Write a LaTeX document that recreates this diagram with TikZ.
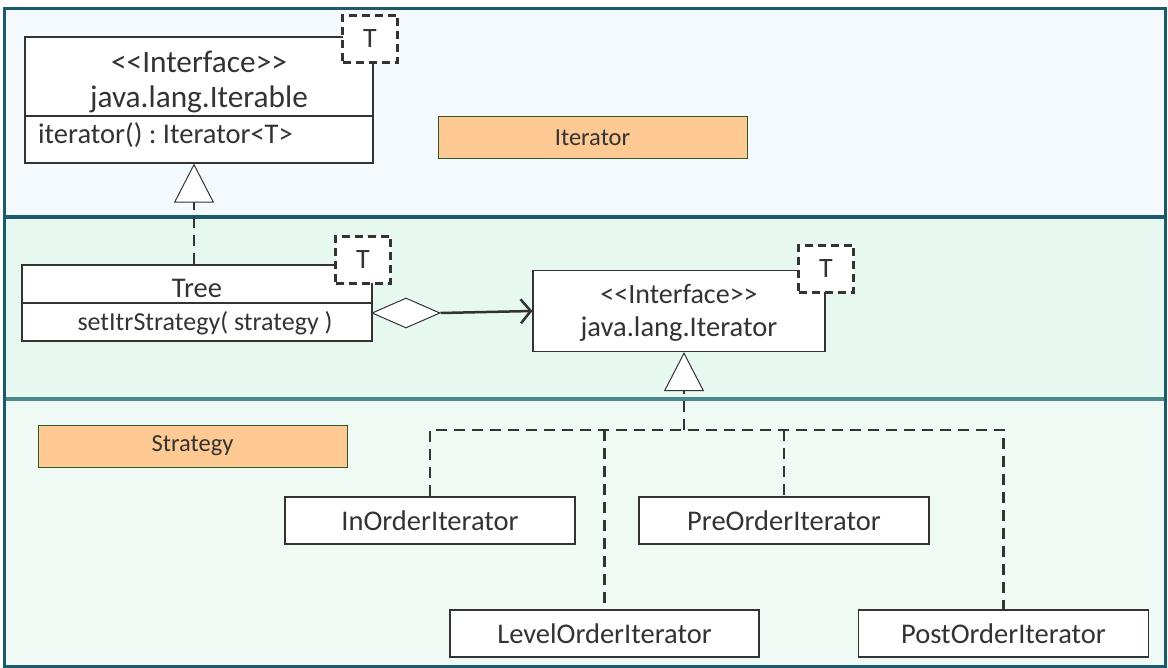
\documentclass[tikz,border=0pt]{standalone}
\usepackage{fontspec}
\setmainfont{Carlito}
\usetikzlibrary{arrows.meta,shapes.geometric}
\definecolor{txt}{HTML}{333333}
\definecolor{frame}{HTML}{1A5A6C}
\definecolor{frametwo}{HTML}{4A8A8E}
\definecolor{bgtop}{HTML}{F3F9FD}
\definecolor{bgmid}{HTML}{E7F8F0}
\definecolor{bgbot}{HTML}{EFFAF5}
\definecolor{orangefill}{HTML}{FFC994}
\definecolor{orangeline}{HTML}{2D5A2D}
\newcommand{\stereo}[1]{<\kern0pt<#1>\kern0pt>}
\frenchspacing
\begin{document}
\begin{tikzpicture}[x=1pt,y=-1pt,
  umlbox/.style={draw=txt, line width=1.2pt, fill=white, inner sep=0pt},
  tbox/.style={draw=txt, line width=3pt, dash pattern=on 8pt off 5pt, fill=white, inner sep=0pt, minimum width=55pt, minimum height=47pt, font=\fontsize{28}{32}\selectfont, text=txt},
  tag/.style={draw=orangeline, line width=1pt, fill=orangefill, inner sep=0pt, minimum width=309pt, minimum height=42pt, font=\fontsize{24.5}{28}\selectfont, text=txt},
  cls/.style={umlbox, minimum width=290pt, minimum height=47pt, font=\fontsize{28.5}{32}\selectfont, text=txt},
  txtbig/.style={text=txt, inner sep=0pt, anchor=base, font=\fontsize{31.3}{36}\selectfont},
  txtmid/.style={text=txt, inner sep=0pt, anchor=base, font=\fontsize{28.5}{32}\selectfont},
  txtsm/.style={text=txt, inner sep=0pt, anchor=base, font=\fontsize{26}{30}\selectfont},
  dep/.style={draw=txt, line width=2.6pt, dash pattern=on 11pt off 7pt},
  gentip/.style={-{Triangle[open,fill=white,length=39pt,width=40pt,line width=1pt]}},
]
\useasboundingbox (0,0) rectangle (1168,668);
% panels
\fill[bgtop] (4,9) rectangle (1165,217);
\fill[bgmid] (4,217) rectangle (1165,399);
\fill[bgbot] (4,399) rectangle (1165,666);
\draw[frametwo, line width=3.5pt] (4,399) -- (1165,399);
\draw[frame, line width=3.5pt] (4,217) -- (1165,217);
\draw[frame, line width=3pt] (4,9) rectangle (1165,666);

% tags
\node[tag] (tagiter) at (592.5,138) {Iterator};
\node[tag] (tagstrat) at (192.5,446) {Strategy};

% Iterable
\node[umlbox, minimum width=348pt, minimum height=126pt] (iterable) at (199,100) {};
\draw[txt, line width=1.5pt] (iterable.west |- 0,116) -- (iterable.east |- 0,116);
\node[txtbig] (itf1) at (199,73) {\stereo{Interface}};
\node[txtbig] (itf1b) at (199,108) {java.lang.Iterable};
\node[txtmid, anchor=base west] (itm) at (38,144) {iterator() : Iterator<T>};
\node[tbox] (t1) at (370,39) {T};

% Tree
\node[umlbox, minimum width=350pt, minimum height=76pt] (tree) at (197,303) {};
\draw[txt, line width=2pt] (tree.west |- 0,303) -- (tree.east |- 0,303);
\node[txtmid] (treename) at (197,298) {Tree};
\node[txtsm] (treem) at (205,331) {setItrStrategy( strategy )};
\node[tbox] (t2) at (363,260) {T};

% Iterator
\node[umlbox, minimum width=292pt, minimum height=81pt] (iterator) at (679,311) {};
\node[txtsm, font=\fontsize{28}{32}\selectfont] (itf2) at (679,304) {\stereo{Interface}};
\node[txtmid] (itf2b) at (679,337) {java.lang.Iterator};
\node[tbox] (t3) at (826,269) {T};

% aggregation
\node[draw=txt, line width=1pt, fill=white, shape=diamond, inner sep=0pt, minimum width=68pt, minimum height=30pt] (diam) at (406,313) {};
\draw[txt, line width=2.5pt, -{Straight Barb[length=10pt,width=24pt,line width=2.5pt]}] (diam.east) -- (iterator.west);

% generalization Tree -> Iterable
\coordinate (gx) at (194,0);
\draw[dep, gentip] (gx |- tree.north) -- (gx |- iterable.south);

% strategies
\node[cls] (inorder) at (430,520.5) {InOrderIterator};
\node[cls] (preorder) at (784,520.5) {PreOrderIterator};
\node[cls, minimum width=309pt] (levelorder) at (604.5,633.5) {LevelOrderIterator};
\node[cls] (postorder) at (1003.5,633.5) {PostOrderIterator};

\coordinate (hub) at (684,430);
\draw[dep, gentip] (hub) -- (iterator.south -| hub);
\draw[dep] (inorder.north) |- (hub) -| (postorder.north);
\draw[dep] (levelorder.north |- hub) -- (levelorder.north);
\draw[dep] (preorder.north |- hub) -- (preorder.north);
\end{tikzpicture}
\end{document}
